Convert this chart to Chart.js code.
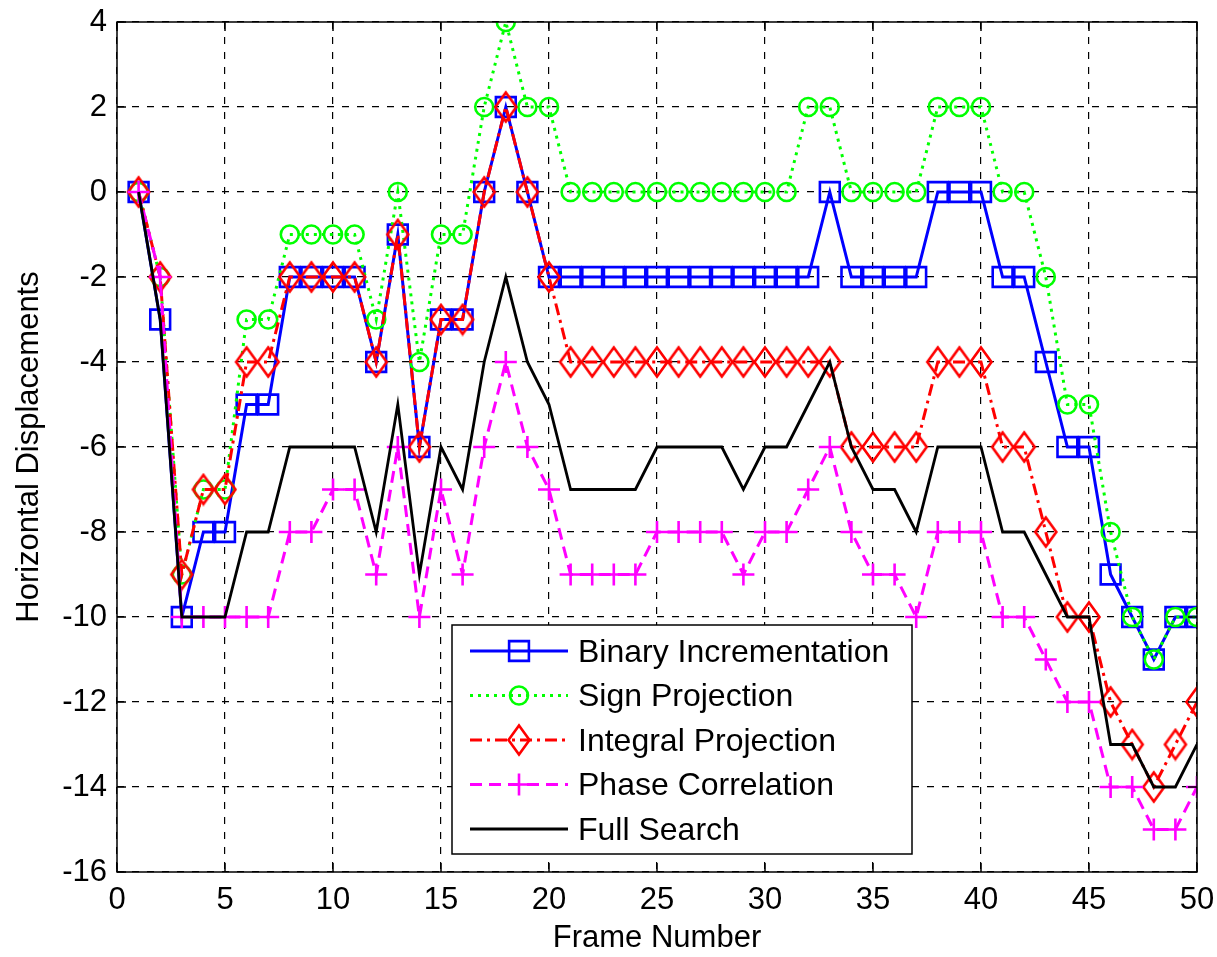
<!DOCTYPE html>
<html>
<head>
<meta charset="utf-8">
<script src="https://cdn.jsdelivr.net/npm/chart.js@4.4.1/dist/chart.umd.min.js"></script>
<style>
  html, body { margin: 0; padding: 0; background: #fff; }
  #wrap { width: 1217px; height: 957px; }
</style>
</head>
<body>
<div id="wrap"><canvas id="myChart" width="1217" height="957"></canvas></div>
<script>
// frame numbers on the x axis
const frames = [1, 2, 3, 4, 5, 6, 7, 8, 9, 10, 11, 12, 13, 14, 15, 16, 17, 18, 19, 20,
  21, 22, 23, 24, 25, 26, 27, 28, 29, 30, 31, 32, 33, 34, 35, 36, 37, 38, 39, 40,
  41, 42, 43, 44, 45, 46, 47, 48, 49, 50];

// horizontal displacement per frame
const binaryInc = [0, -3, -10, -8, -8, -5, -5, -2, -2, -2, -2, -4, -1, -6, -3, -3, 0, 2, 0, -2,
  -2, -2, -2, -2, -2, -2, -2, -2, -2, -2, -2, -2, 0, -2, -2, -2, -2, 0, 0, 0,
  -2, -2, -4, -6, -6, -9, -10, -11, -10, -10];
const signProj = [0, -2, -9, -7, -7, -3, -3, -1, -1, -1, -1, -3, 0, -4, -1, -1, 2, 4, 2, 2,
  0, 0, 0, 0, 0, 0, 0, 0, 0, 0, 0, 2, 2, 0, 0, 0, 0, 2, 2, 2,
  0, 0, -2, -5, -5, -8, -10, -11, -10, -10];
const integralProj = [0, -2, -9, -7, -7, -4, -4, -2, -2, -2, -2, -4, -1, -6, -3, -3, 0, 2, 0, -2,
  -4, -4, -4, -4, -4, -4, -4, -4, -4, -4, -4, -4, -4, -6, -6, -6, -6, -4, -4, -4,
  -6, -6, -8, -10, -10, -12, -13, -14, -13, -12];
const phaseCorr = [0, -2, -10, -10, -10, -10, -10, -8, -8, -7, -7, -9, -6, -10, -7, -9, -6, -4, -6, -7,
  -9, -9, -9, -9, -8, -8, -8, -8, -9, -8, -8, -7, -6, -8, -9, -9, -10, -8, -8, -8,
  -10, -10, -11, -12, -12, -14, -14, -15, -15, -14];
const fullSearch = [0, -3, -10, -10, -10, -8, -8, -6, -6, -6, -6, -8, -5, -9, -6, -7, -4, -2, -4, -5,
  -7, -7, -7, -7, -6, -6, -6, -6, -7, -6, -6, -5, -4, -6, -7, -7, -8, -6, -6, -6,
  -8, -8, -9, -10, -10, -13, -13, -14, -14, -13];

const seriesNames = ['Binary Incrementation', 'Sign Projection', 'Integral Projection',
  'Phase Correlation', 'Full Search'];
const seriesColors = ['#0000ff', '#00ff00', '#ff0000', '#ff00ff', '#000000'];

const xMin = 0, xMax = 50, xStep = 5;
const yMin = -16, yMax = 4, yStep = 2;

const FONT = '"Liberation Sans", Arial, Helvetica, sans-serif';

// tall diamond marker like the matlab one
function makeDiamond(color) {
  const c = document.createElement('canvas');
  c.width = 26;
  c.height = 34;
  const g = c.getContext('2d');
  g.strokeStyle = color;
  g.lineWidth = 2.6;
  g.beginPath();
  g.moveTo(13, 2.5);
  g.lineTo(23.5, 17);
  g.lineTo(13, 31.5);
  g.lineTo(2.5, 17);
  g.closePath();
  g.stroke();
  return c;
}

function toPoints(values) {
  return frames.map((f, i) => ({ x: f, y: values[i] }));
}

const diamond = makeDiamond(seriesColors[2]);

const datasets = [
  { data: binaryInc, style: 'rect', radius: 14, dash: [], width: 3, order: 5 },
  { data: signProj, style: 'circle', radius: 9, dash: [3, 5], width: 3, order: 4 },
  { data: integralProj, style: diamond, radius: 12, dash: [12, 5, 3, 5], width: 3, order: 3 },
  { data: phaseCorr, style: 'cross', radius: 11, dash: [12, 7], width: 3, order: 2 },
  { data: fullSearch, style: 'circle', radius: 0, dash: [], width: 2.8, order: 1 }
].map((d, i) => ({
  label: seriesNames[i],
  data: toPoints(d.data),
  borderColor: seriesColors[i],
  borderWidth: d.width,
  borderDash: d.dash,
  tension: 0,
  fill: false,
  pointStyle: d.style,
  pointRadius: d.radius,
  pointBorderWidth: 2.6,
  pointBorderColor: seriesColors[i],
  pointBackgroundColor: 'rgba(0,0,0,0)',
  order: d.order
}));

function drawMarker(ctx, style, r, x, y, color) {
  if (r <= 0) return;
  ctx.save();
  if (typeof style === 'object') {
    ctx.drawImage(style, x - style.width / 2, y - style.height / 2);
    ctx.restore();
    return;
  }
  ctx.strokeStyle = color;
  ctx.lineWidth = 2.6;
  ctx.setLineDash([]);
  ctx.beginPath();
  if (style === 'rect') {
    const s = Math.SQRT1_2 * r;
    ctx.rect(x - s, y - s, 2 * s, 2 * s);
  } else if (style === 'circle') {
    ctx.arc(x, y, r, 0, Math.PI * 2);
  } else if (style === 'cross') {
    ctx.moveTo(x - r, y); ctx.lineTo(x + r, y);
    ctx.moveTo(x, y - r); ctx.lineTo(x, y + r);
  }
  ctx.stroke();
  ctx.restore();
}

// no automatic label padding, the layout padding decides the plot box
function noPad(scale) {
  scale.paddingTop = 0;
  scale.paddingBottom = 0;
  scale.paddingLeft = 0;
  scale.paddingRight = 0;
}

// axes box, inner tick marks and the legend inside the plot
const boxPlugin = {
  id: 'boxAndLegend',
  afterDraw(chart) {
    const ctx = chart.ctx;
    const a = chart.chartArea;
    const xs = chart.scales.x;
    const ys = chart.scales.y;
    ctx.save();
    ctx.strokeStyle = '#000';
    ctx.lineWidth = 1.5;
    ctx.setLineDash([]);
    ctx.strokeRect(a.left, a.top, a.right - a.left, a.bottom - a.top);
    const tl = 9;
    ctx.beginPath();
    xs.ticks.forEach((t) => {
      const px = xs.getPixelForValue(t.value);
      ctx.moveTo(px, a.bottom); ctx.lineTo(px, a.bottom - tl);
      ctx.moveTo(px, a.top); ctx.lineTo(px, a.top + tl);
    });
    ys.ticks.forEach((t) => {
      const py = ys.getPixelForValue(t.value);
      ctx.moveTo(a.left, py); ctx.lineTo(a.left + tl, py);
      ctx.moveTo(a.right, py); ctx.lineTo(a.right - tl, py);
    });
    ctx.stroke();

    // legend
    const lx = 452, ly = 625, lw = 460, lh = 229;
    ctx.fillStyle = '#fff';
    ctx.fillRect(lx, ly, lw, lh);
    ctx.lineWidth = 1.5;
    ctx.strokeRect(lx, ly, lw, lh);
    ctx.font = '32px ' + FONT;
    ctx.textBaseline = 'middle';
    ctx.textAlign = 'left';
    chart.data.datasets.forEach((ds, i) => {
      const rowY = 651 + i * 44.5;
      ctx.save();
      ctx.strokeStyle = ds.borderColor;
      ctx.lineWidth = ds.borderWidth;
      ctx.setLineDash(ds.borderDash);
      ctx.beginPath();
      ctx.moveTo(470, rowY);
      ctx.lineTo(568, rowY);
      ctx.stroke();
      ctx.restore();
      drawMarker(ctx, ds.pointStyle, ds.pointRadius, 519, rowY, ds.borderColor);
      ctx.fillStyle = '#000';
      ctx.fillText(ds.label, 578, rowY + 2);
    });
    ctx.restore();
  }
};

function mainEvent() {
  const target = document.querySelector('#myChart');
  new Chart(target, {
    type: 'line',
    data: { datasets: datasets },
    options: {
      responsive: false,
      animation: false,
      devicePixelRatio: 1,
      layout: { padding: { left: 0, right: 20, top: 22, bottom: 0 } },
      plugins: { legend: { display: false }, tooltip: { enabled: false } },
      scales: {
        x: {
          type: 'linear',
          min: xMin,
          max: xMax,
          ticks: { stepSize: xStep, color: '#000', font: { family: FONT, size: 31 }, padding: 10, maxRotation: 0 },
          grid: { color: '#000', lineWidth: 1.2, drawTicks: false },
          border: { display: false, dash: [7, 8] },
          title: { display: true, text: 'Frame Number', color: '#000', font: { family: FONT, size: 31 }, padding: { top: 0, bottom: 0 } },
          afterFit: (scale) => { scale.height = 85; noPad(scale); }
        },
        y: {
          type: 'linear',
          min: yMin,
          max: yMax,
          ticks: { stepSize: yStep, color: '#000', font: { family: FONT, size: 31 }, padding: 10 },
          grid: { color: '#000', lineWidth: 1.2, drawTicks: false },
          border: { display: false, dash: [7, 8] },
          title: { display: true, text: 'Horizontal Displacements', color: '#000', font: { family: FONT, size: 31 }, padding: { top: 11, bottom: 0 } },
          afterFit: (scale) => { scale.width = 117; noPad(scale); }
        }
      }
    },
    plugins: [boxPlugin]
  });
}

document.addEventListener('DOMContentLoaded', () => mainEvent());
</script>
</body>
</html>
